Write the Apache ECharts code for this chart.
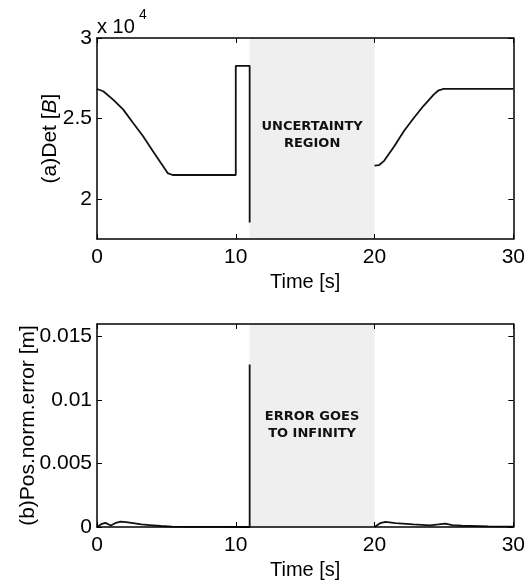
<!DOCTYPE html>
<html>
<head>
<meta charset="utf-8">
<script src="https://cdn.jsdelivr.net/npm/echarts@6/dist/echarts.min.js"></script>
<style>
  html, body { margin: 0; padding: 0; background: #fff; }
  #chart { width: 528px; height: 583px; }
</style>
</head>
<body>
<div id="chart"></div>
<script>
// time axis
var timeTicks = [0, 10, 20, 30];

// (a) Det[B], before and after the uncertainty region
var detTimeA = [0, 0.45, 1.16, 1.88, 2.59, 3.31, 4.02, 4.74, 5.09, 5.45, 10, 10, 11, 11];
var detValueA = [26830, 26690, 26170, 25560, 24730, 23910, 22980, 22060, 21600, 21480, 21480, 28270, 28270, 18520];
var detTimeB = [20, 20.33, 20.69, 21.41, 22.12, 22.84, 23.55, 24.26, 24.62, 24.98, 30];
var detValueB = [22060, 22100, 22360, 23250, 24220, 25040, 25800, 26480, 26750, 26830, 26830];
var detTicks = [20000, 25000, 30000];

// (b) position norm error
var errTimeA = [0, 0.3, 0.6, 1.0, 1.3, 1.7, 2.1, 2.6, 3.2, 3.8, 4.6, 5.4, 7, 9, 11, 11];
var errValueA = [0, 0.00022, 0.00032, 0.00012, 0.0003, 0.00042, 0.00038, 0.0003, 0.0002, 0.00015, 0.00008, 0.00003, 0.00001, 0.00001, 0, 0.0128];
var errTimeB = [20, 20.4, 20.8, 21.5, 22.8, 24, 24.6, 25.1, 25.6, 26.3, 28.2, 30];
var errValueB = [0, 0.0003, 0.0004, 0.0003, 0.0002, 0.00013, 0.0002, 0.00027, 0.00015, 0.0001, 0.00005, 0.00003];
var errTicks = [0, 0.005, 0.01, 0.015];

// grey region
var regionStart = 11;
var regionEnd = 20;

var FONT = 'Liberation Sans, Arial, sans-serif';

function pairs(ts, vs) {
  return ts.map(function (t, i) { return [t, vs[i]]; });
}

var lineAxis = { show: true, onZero: false, lineStyle: { color: '#000', width: 1.5 } };
var innerTick = { show: true, inside: true, length: 5, lineStyle: { color: '#000', width: 1 } };

function xAxes(grid) {
  return [
    {
      gridIndex: grid, type: 'value', min: 0, max: 30, interval: 10, position: 'bottom', z: 10,
      name: 'Time [s]', nameLocation: 'middle', nameGap: 33, nameMoveOverlap: false,
      nameTextStyle: { color: '#000', fontSize: 20, fontFamily: FONT },
      axisLine: lineAxis, axisTick: innerTick, splitLine: { show: false },
      axisLabel: { color: '#000', fontSize: 21, fontFamily: FONT, margin: 8, customValues: timeTicks }
    },
    {
      gridIndex: grid, type: 'value', min: 0, max: 30, interval: 10, position: 'top', z: 10,
      axisLine: lineAxis, axisTick: innerTick, splitLine: { show: false }, axisLabel: { show: false }
    }
  ];
}

function yAxes(grid, min, max, ticks, name, gap, fmt) {
  return [
    {
      gridIndex: grid, type: 'value', min: min, max: max, position: 'left', z: 10,
      name: name, nameLocation: 'middle', nameGap: gap, nameMoveOverlap: false,
      nameTextStyle: {
        color: '#000', fontSize: 21, fontFamily: FONT,
        rich: { i: { color: '#000', fontSize: 21, fontFamily: FONT, fontStyle: 'italic' } }
      },
      axisLine: lineAxis, splitLine: { show: false },
      axisTick: Object.assign({ customValues: ticks }, innerTick),
      axisLabel: { color: '#000', fontSize: 21, fontFamily: FONT, margin: 5, customValues: ticks, formatter: fmt }
    },
    {
      gridIndex: grid, type: 'value', min: min, max: max, position: 'right', z: 10,
      axisLine: lineAxis, splitLine: { show: false },
      axisTick: Object.assign({ customValues: ticks }, innerTick),
      axisLabel: { show: false }
    }
  ];
}

function shade(text, dy) {
  return {
    silent: true,
    itemStyle: { color: '#efefef' },
    label: {
      show: true, position: 'inside', offset: [0, dy], color: '#111',
      fontFamily: 'DejaVu Sans', fontWeight: 'bold', fontSize: 13, lineHeight: 17
    },
    data: [[{ name: text, xAxis: regionStart }, { xAxis: regionEnd }]]
  };
}

function curve(xi, yi, data, area) {
  var s = {
    type: 'line', xAxisIndex: xi, yAxisIndex: yi, data: data,
    showSymbol: false, symbol: 'none', animation: false,
    lineStyle: { color: '#111', width: 1.8 }
  };
  if (area) s.markArea = area;
  return s;
}

var chart = echarts.init(document.getElementById('chart'));
chart.setOption({
  animation: false,
  backgroundColor: '#fff',
  grid: [
    { left: 97, right: 11, top: 38, height: 201 },
    { left: 97, right: 11, top: 324, height: 203 }
  ],
  xAxis: xAxes(0).concat(xAxes(1)),
  yAxis: yAxes(0, 17500, 30000, detTicks, '(a)Det [{i|B}]', 36, function (v) { return String(v / 10000); })
    .concat(yAxes(1, 0, 0.016, errTicks, '(b)Pos.norm.error [m]', 58, function (v) { return String(v); })),
  graphic: [
    { type: 'text', left: 97, top: 17, style: { text: 'x 10', fontSize: 20, fontFamily: FONT, fill: '#000' } },
    { type: 'text', left: 139, top: 8, style: { text: '4', fontSize: 14, fontFamily: FONT, fill: '#000' } }
  ],
  series: [
    curve(0, 0, pairs(detTimeA, detValueA), shade('UNCERTAINTY\nREGION', -3)),
    curve(0, 0, pairs(detTimeB, detValueB)),
    curve(2, 2, pairs(errTimeA, errValueA), shade('ERROR GOES\nTO INFINITY', 0)),
    curve(2, 2, pairs(errTimeB, errValueB))
  ]
});
</script>
</body>
</html>
